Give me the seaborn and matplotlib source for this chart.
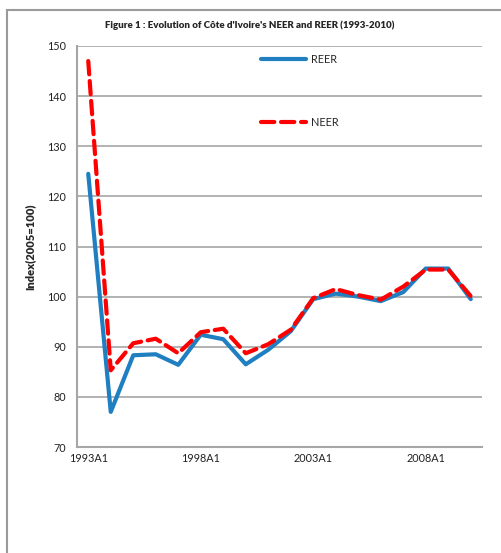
import matplotlib
matplotlib.use("Agg")
import matplotlib.pyplot as plt
import matplotlib.patches as mpatches
import seaborn as sns
import pandas as pd

years = [f"{y}A1" for y in range(1993, 2011)]
reer = [124.5, 77.0, 88.3, 88.5, 86.4, 92.4, 91.5, 86.5, 89.4, 93.1,
        99.5, 100.6, 100.0, 99.1, 100.9, 105.6, 105.6, 99.5]
neer = [147.0, 85.3, 90.7, 91.6, 88.7, 92.9, 93.6, 88.7, 90.5, 93.4,
        99.7, 101.5, 100.3, 99.4, 102.0, 105.4, 105.4, 100.1]
tick_years = ["1993A1", "1998A1", "2003A1", "2008A1"]

sns.set_theme(style="white")
plt.rcParams["font.family"] = ["Lato", "DejaVu Sans"]

df = pd.DataFrame({"pos": range(len(years)), "year": years,
                   "REER": reer, "NEER": neer})

fig = plt.figure(figsize=(5.01, 5.53), dpi=100)
ax = fig.add_axes([77 / 501, 1 - 447 / 553, 405 / 501, 401 / 553])

grid_c = "#a6a6a6"
ax.set_ylim(70, 150)
ax.set_xlim(-0.5, len(years) - 0.5)
ax.set_yticks(range(70, 151, 10))
for v in range(80, 151, 10):
    ax.axhline(v, color=grid_c, lw=1.2, zorder=0)

sns.lineplot(data=df, x="pos", y="REER", ax=ax, color="#1f7fc1",
             lw=3.0, label="REER", zorder=3)
sns.lineplot(data=df, x="pos", y="NEER", ax=ax, color="#ff0000",
             lw=3.0, label="NEER", zorder=4, dashes=False)
ax.lines[-1].set_dashes([3.2, 1.6])
ax.lines[-1].set_dash_capstyle("round")

ax.set_xticks([years.index(t) for t in tick_years])
ax.set_xticklabels(tick_years)
ax.tick_params(axis="both", labelsize=7.8, colors="#222222", length=0, pad=4)
ax.tick_params(axis="y", pad=8)
ax.set_xlabel("")
ax.set_ylabel("Index(2005=100)", fontsize=8, fontweight="heavy", labelpad=8)

for s in ["top", "right"]:
    ax.spines[s].set_visible(False)
for s in ["left", "bottom"]:
    ax.spines[s].set_color(grid_c)
    ax.spines[s].set_linewidth(1.5)

leg = ax.legend(loc="upper left", bbox_to_anchor=(0.43, 1.005), frameon=False,
                fontsize=7.8, labelspacing=4.85, handlelength=4.2,
                handletextpad=0.4)
for h in leg.get_lines():
    h.set_linewidth(3.0)

fig.text(250 / 501, 1 - 25 / 553,
         "Figure 1 : Evolution of Côte d'Ivoire's NEER and REER (1993-2010)",
         ha="center", va="center", fontsize=7, fontweight="heavy")

fig.patches.append(mpatches.Rectangle((7 / 501, -0.1), 1.0, 1 - 10 / 553 + 0.1,
                                      transform=fig.transFigure, fill=False,
                                      edgecolor="#9a9a9a", lw=1.5))

fig.savefig("out.png", dpi=100)
